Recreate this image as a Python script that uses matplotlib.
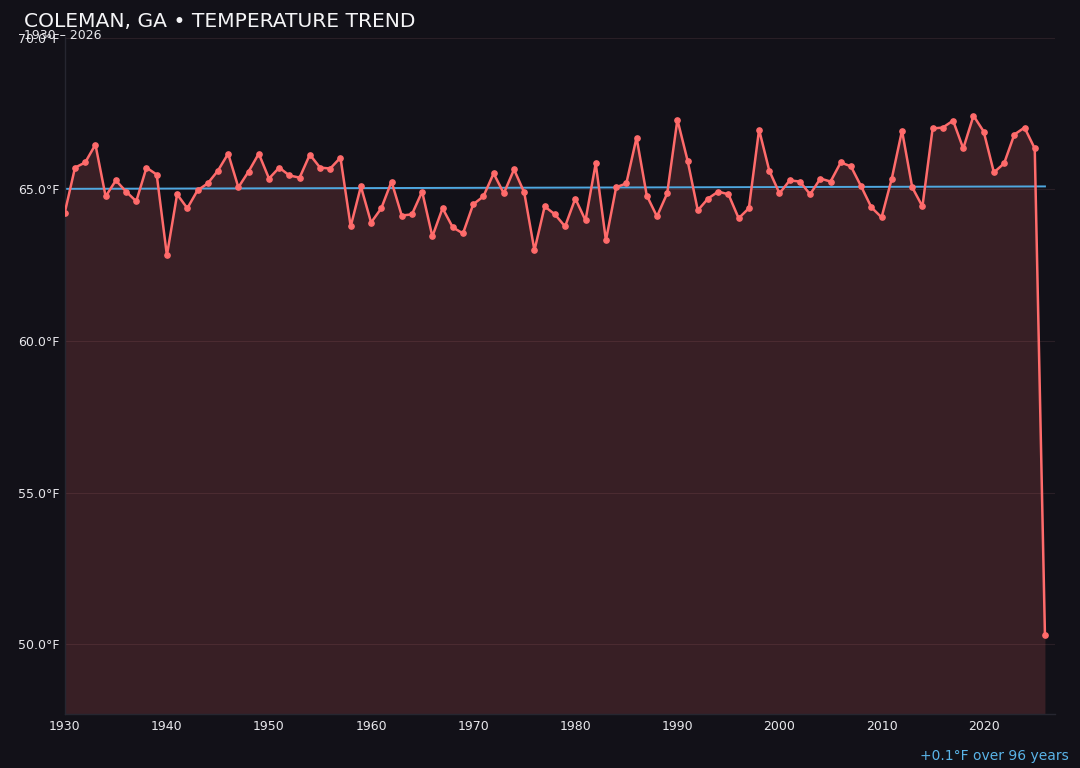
import matplotlib
matplotlib.use("Agg")
import matplotlib.pyplot as plt
import numpy as np

years = list(range(1930, 2027))
temps = [
    64.24, 65.72, 65.89, 66.48, 64.77, 65.30, 64.93, 64.61, 65.72, 65.49,
    62.83, 64.84, 64.38, 64.97, 65.20, 65.62, 66.18, 65.07, 65.59, 66.18,
    65.36, 65.72, 65.46, 65.39, 66.15, 65.72, 65.69, 66.05, 63.78, 65.10,
    63.91, 64.38, 65.26, 64.14, 64.18, 64.93, 63.45, 64.38, 63.75, 63.55,
    64.51, 64.77, 65.53, 64.87, 65.66, 64.90, 62.99, 64.44, 64.18, 63.78,
    64.70, 63.98, 65.86, 63.32, 65.07, 65.20, 66.71, 64.80, 64.11, 64.87,
    67.30, 65.95, 64.31, 64.70, 64.93, 64.84, 64.05, 64.38, 66.97, 65.62,
    64.87, 65.30, 65.26, 64.84, 65.36, 65.26, 65.89, 65.76, 65.10, 64.41,
    64.08, 65.36, 66.94, 65.07, 64.44, 67.01, 67.04, 67.27, 66.35, 67.43,
    66.91, 65.56, 65.86, 66.81, 67.04, 66.35, 50.30,
]
trend_years = [1930, 2026]
trend_vals = [65.02, 65.10]
yticks = [50, 55, 60, 65, 70]
xticks = [1930, 1940, 1950, 1960, 1970, 1980, 1990, 2000, 2010, 2020]

BG = "#121118"
LINE = "#ff6b6b"
TREND = "#4fa8e0"
TXT = "#e8e8ec"

fig = plt.figure(figsize=(10.8, 7.68), dpi=100, facecolor=BG)
ax = fig.add_axes([0.060, 0.070, 0.917, 0.882])
ax.set_facecolor(BG)

ymin = min(temps) - 2.6
ymax = max(temps) + 2.6
ax.fill_between(years, temps, ymin, color=LINE, alpha=0.16, linewidth=0, zorder=1)
ax.plot(years, temps, color=LINE, linewidth=1.8, marker="o", markersize=3.8, zorder=3)
ax.plot(trend_years, trend_vals, color=TREND, linewidth=1.4, zorder=2)

ax.set_xlim(1930, 2027)
ax.set_ylim(ymin, ymax)
ax.set_xticks(xticks)
ax.set_yticks(yticks)
ax.set_yticklabels([f"{v:.1f}°F" for v in yticks])
ax.tick_params(colors=TXT, labelsize=9, length=0, pad=4)
ax.grid(axis="y", color="#3a2a30", linewidth=0.8, alpha=0.6)
ax.set_axisbelow(True)
for s in ["top", "right"]:
    ax.spines[s].set_visible(False)
for s in ["left", "bottom"]:
    ax.spines[s].set_color("#262630")
    ax.spines[s].set_linewidth(1.0)

fig.text(0.022, 0.972, "COLEMAN, GA • TEMPERATURE TREND", color="#f4f4f6",
         fontsize=14.6, ha="left", va="center")
fig.text(0.022, 0.954, "1930 – 2026", color=TXT, fontsize=9, ha="left", va="center")
fig.text(0.990, 0.016, "+0.1°F over 96 years", color="#5ab4e8", fontsize=10,
         ha="right", va="center")

fig.savefig("out.png", dpi=100, facecolor=BG)
